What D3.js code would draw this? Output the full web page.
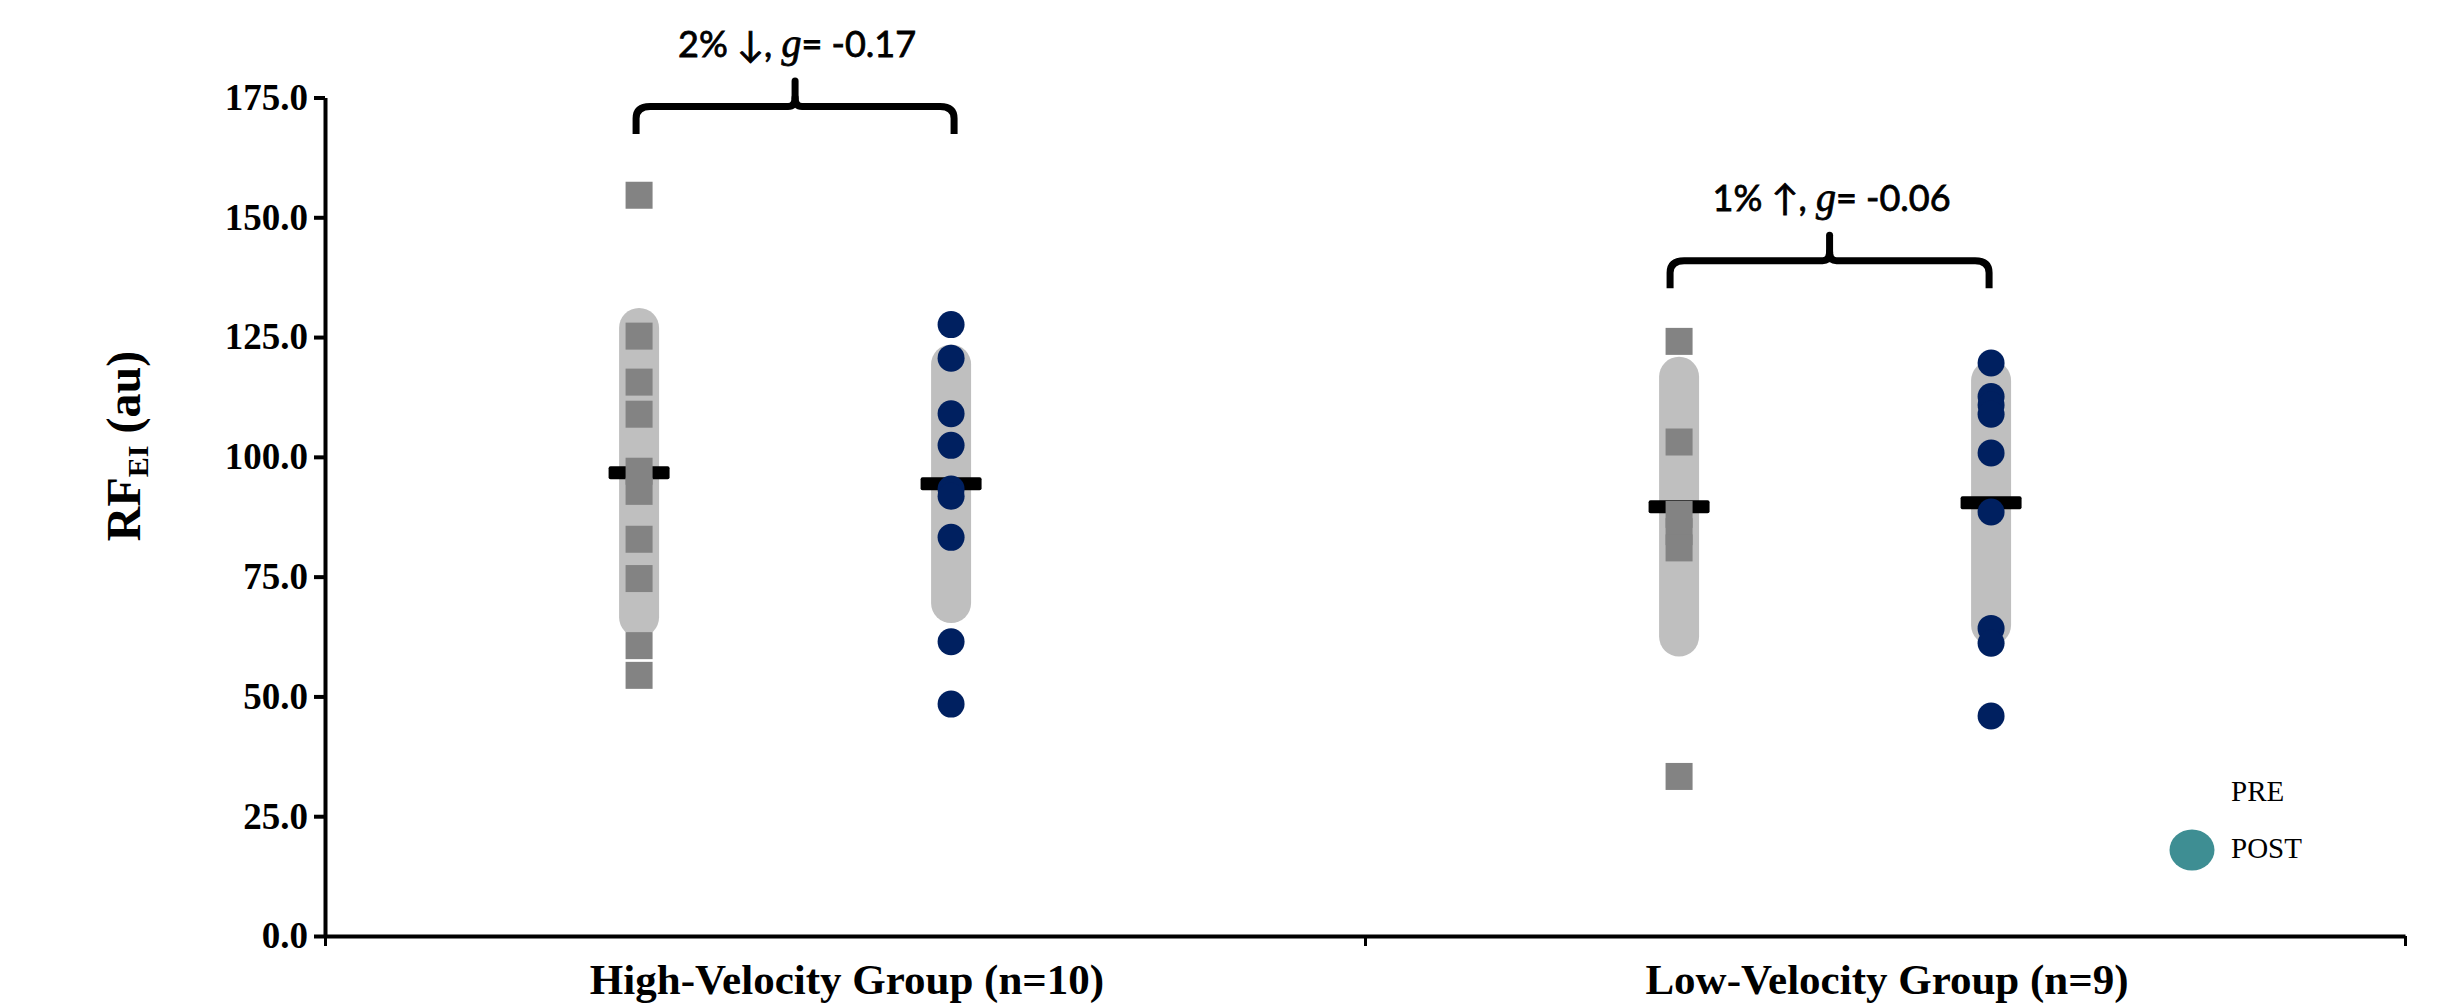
<!DOCTYPE html>
<html>
<head>
<meta charset="utf-8">
<script src="https://cdn.jsdelivr.net/npm/d3@7"></script>
<style>
  body { margin: 0; background: #fff; }
</style>
</head>
<body>
<script>
// chart values
var groups = ["High-Velocity Group (n=10)", "Low-Velocity Group (n=9)"];
var phases = ["PRE", "POST"];
var highPre = [154.6, 125.2, 115.6, 108.9, 97.0, 92.8, 82.8, 74.6, 60.6, 54.4];
var highPost = [127.6, 120.6, 109.0, 102.4, 93.3, 91.8, 83.2, 61.4, 48.4];
var lowPre = [124.1, 103.1, 88.0, 84.4, 81.0, 33.3];
var lowPost = [119.6, 112.6, 110.8, 108.9, 100.8, 88.5, 64.2, 61.1, 45.9];
var means = [[96.7, 94.4], [89.6, 90.4]];
var sds = [[30.2, 24.9], [27.1, 25.5]];
var changeText = ["2% \u2193, ", "1% \u2191, "];
var gText = ["= -0.17", "= -0.06"];
var braceLevel = [167.4, 135.2];
var yTicks = [0, 25, 50, 75, 100, 125, 150, 175];

var points = [[highPre, highPost], [lowPre, lowPost]];

var w = 2461;
var h = 1008;

var svg = d3.select("body")
	.append("svg")
	.attr("width", w)
	.attr("height", h);

var y = d3.scaleLinear().domain([0, 175]).range([936, 97.5]);
var xBand = d3.scaleBand().domain(groups).range([325, 2405]);
var xEdge = d3.scaleLinear().domain([0, groups.length]).range([325, 2405]);
// PRE / POST sit at fixed fractions of each group band
var xPhase = d3.scaleOrdinal().domain(phases).range([0.302, 0.602]);

function xOf(g, p) {
	return xBand(g) + xBand.bandwidth() * xPhase(p);
}

var serif = "'Liberation Serif', 'Times New Roman', serif";

// y axis
var yAxis = svg.append("g")
	.attr("transform", "translate(325,0)")
	.call(d3.axisLeft(y).tickValues(yTicks).tickFormat(d3.format(".1f")).tickSize(11).tickSizeOuter(0).tickPadding(6));
yAxis.select(".domain").attr("stroke-width", 4);
yAxis.selectAll(".tick line").attr("stroke-width", 4);
yAxis.selectAll(".tick text")
	.attr("font-family", serif)
	.attr("font-weight", "bold")
	.attr("font-size", 37)
	.attr("fill", "#000");

// x axis (ticks at the group boundaries)
var xAxis = svg.append("g")
	.attr("transform", "translate(0,936)")
	.call(d3.axisBottom(xEdge).tickValues([0, 1, 2]).tickFormat("").tickSize(10).tickSizeOuter(0));
xAxis.select(".domain").attr("stroke-width", 4);
xAxis.selectAll(".tick line").attr("stroke-width", 3);

svg.selectAll("text.cat")
	.data(groups)
	.enter()
	.append("text")
	.attr("class", "cat")
	.attr("x", function(d) { return xBand(d) + xBand.bandwidth() / 2 + 2; })
	.attr("y", 994)
	.attr("text-anchor", "middle")
	.attr("font-family", serif)
	.attr("font-weight", "bold")
	.attr("font-size", 43)
	.text(function(d) { return d; });

// y title
var yTitle = svg.append("text")
	.attr("transform", "translate(140,446) rotate(-90)")
	.attr("text-anchor", "middle")
	.attr("font-family", serif)
	.attr("font-weight", "bold")
	.attr("font-size", 48);
yTitle.append("tspan").text("RF");
yTitle.append("tspan").attr("font-size", 30).attr("dy", 8).text("EI");
yTitle.append("tspan").attr("dy", -8).text(" (au)");

// flatten into one row per group x phase
var cells = [];
groups.forEach(function(g, gi) {
	phases.forEach(function(p, pi) {
		cells.push({ g: g, p: p, mean: means[gi][pi], sd: sds[gi][pi], vals: points[gi][pi] });
	});
});

// SD capsules
svg.selectAll("line.sd")
	.data(cells)
	.enter()
	.append("line")
	.attr("class", "sd")
	.attr("x1", function(d) { return xOf(d.g, d.p); })
	.attr("x2", function(d) { return xOf(d.g, d.p); })
	.attr("y1", function(d) { return y(d.mean + d.sd); })
	.attr("y2", function(d) { return y(d.mean - d.sd); })
	.attr("stroke", "#bfbfbf")
	.attr("stroke-width", 40)
	.attr("stroke-linecap", "round");

// mean bars
svg.selectAll("rect.mean")
	.data(cells)
	.enter()
	.append("rect")
	.attr("class", "mean")
	.attr("x", function(d) { return xOf(d.g, d.p) - 30.5; })
	.attr("y", function(d) { return y(d.mean) - 6.5; })
	.attr("width", 61)
	.attr("height", 13)
	.attr("rx", 2)
	.attr("fill", "#000");

// individual values
cells.forEach(function(c) {
	if (c.p === "PRE") {
		svg.selectAll(null)
			.data(c.vals)
			.enter()
			.append("rect")
			.attr("x", xOf(c.g, c.p) - 13.5)
			.attr("y", function(d) { return y(d) - 13.5; })
			.attr("width", 27)
			.attr("height", 27)
			.attr("fill", "#838383");
	} else {
		svg.selectAll(null)
			.data(c.vals)
			.enter()
			.append("circle")
			.attr("cx", xOf(c.g, c.p))
			.attr("cy", function(d) { return y(d); })
			.attr("r", 13.5)
			.attr("fill", "#002060");
	}
});

// braces + change annotations
var braceShift = [[-3, 3], [-9, -2]];
groups.forEach(function(g, gi) {
	var xl = xOf(g, "PRE") + braceShift[gi][0];
	var xr = xOf(g, "POST") + braceShift[gi][1];
	var cx = (xl + xr) / 2;
	var yb = y(braceLevel[gi]);
	var yh = yb - 27.5;
	var yp = yh - 29;
	var path = "M" + xl + "," + yb + " V" + (yh + 12) + " Q" + xl + "," + yh + " " + (xl + 14) + "," + yh +
		" H" + (cx - 7) + " Q" + cx + "," + yh + " " + cx + "," + (yh - 9) +
		" Q" + cx + "," + yh + " " + (cx + 7) + "," + yh +
		" H" + (xr - 14) + " Q" + xr + "," + yh + " " + xr + "," + (yh + 12) + " V" + yb;
	svg.append("path")
		.attr("d", path)
		.attr("fill", "none")
		.attr("stroke", "#000")
		.attr("stroke-width", 7)
		.attr("stroke-linejoin", "round");
	svg.append("line")
		.attr("x1", cx).attr("x2", cx)
		.attr("y1", yh - 8).attr("y2", yp + 3.5)
		.attr("stroke", "#000")
		.attr("stroke-width", 7)
		.attr("stroke-linecap", "round");

	var t = svg.append("text")
		.attr("x", cx + 2)
		.attr("y", yp - 20.5)
		.attr("text-anchor", "middle")
		.attr("font-family", "Lato, 'Open Sans', sans-serif")
		.attr("font-size", 36)
		.attr("stroke", "#000")
		.attr("stroke-width", 0.8);
	t.append("tspan").text(changeText[gi]);
	t.append("tspan").attr("font-family", serif).attr("font-style", "italic").attr("font-size", 40).text("g");
	t.append("tspan").text(gText[gi]);
});

// legend
svg.append("ellipse")
	.attr("cx", 2192)
	.attr("cy", 850)
	.attr("rx", 22.5)
	.attr("ry", 20.5)
	.attr("fill", "#3e8e93");
svg.selectAll("text.leg")
	.data(phases)
	.enter()
	.append("text")
	.attr("class", "leg")
	.attr("x", 2231)
	.attr("y", function(d, i) { return 801 + i * 57; })
	.attr("font-family", serif)
	.attr("font-size", 29)
	.text(function(d) { return d; });
</script>
</body>
</html>
